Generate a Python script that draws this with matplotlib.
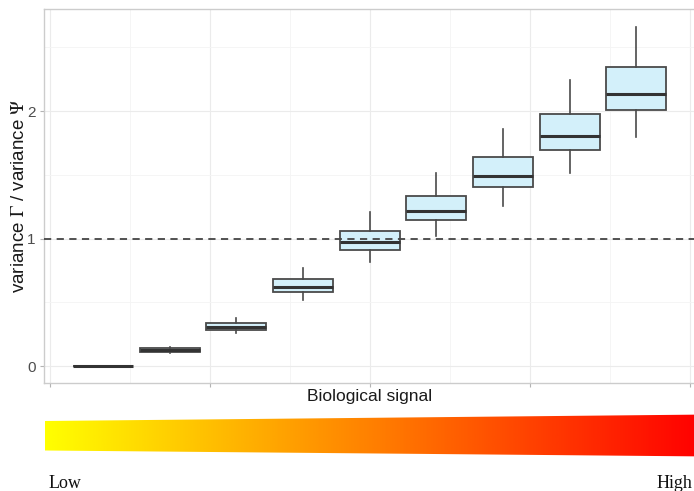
import numpy as np
import matplotlib
matplotlib.use("Agg")
import matplotlib.pyplot as plt
from matplotlib.patches import Polygon
from matplotlib.colors import LinearSegmentedColormap

plt.rcParams['font.family'] = ['Liberation Sans', 'DejaVu Sans']
plt.rcParams['mathtext.fontset'] = 'stix'

# ---- data ----
signal_levels = [1, 2, 3, 4, 5, 6, 7, 8, 9]
whisker_low = [0.0, 0.104, 0.259, 0.518, 0.813, 1.022, 1.255, 1.516, 1.798]
quart_1 = [0.0, 0.112, 0.282, 0.578, 0.910, 1.143, 1.401, 1.692, 2.008]
medians = [0.0, 0.125, 0.306, 0.622, 0.970, 1.216, 1.493, 1.801, 2.136]
quart_3 = [0.0, 0.143, 0.337, 0.680, 1.061, 1.333, 1.639, 1.974, 2.343]
whisker_high = [0.0, 0.151, 0.376, 0.766, 1.205, 1.516, 1.861, 2.243, 2.661]
y_ticks = [0, 1, 2]
reference_line = 1.0
x_label = "Biological signal"
y_label = r"variance $\Gamma$ / variance $\Psi$"
gradient_labels = ["Low", "High"]
gradient_colors = ["#ffff00", "#ff0000"]

W, H = 694, 491
fig = plt.figure(figsize=(W / 100, H / 100), dpi=100)

# main panel
left, right, top, bottom = 44, 695, 9, 383
ax = fig.add_axes([left / W, (H - bottom) / H, (right - left) / W, (bottom - top) / H])
px_per_unit = 66.67
x0 = 1 - (103 - left) / px_per_unit
ax.set_xlim(x0, x0 + (right - left) / px_per_unit)
ax.set_ylim(-0.133, 2.8)

major_x = [0.205, 2.605, 5.0, 7.4, 9.8]
minor_x = [1.405, 3.8, 6.2, 8.6]
ax.set_xticks(major_x)
ax.set_xticks(minor_x, minor=True)
ax.set_xticklabels([])
ax.set_yticks(y_ticks)
ax.set_yticks([0.5, 1.5, 2.5], minor=True)
ax.grid(True, which='major', color='#ebebeb', lw=0.8)
ax.grid(True, which='minor', color='#f4f4f4', lw=0.6)
ax.set_axisbelow(True)
ax.tick_params(which='major', length=3, width=0.8, color='#b3b3b3',
               labelsize=11, labelcolor='#4d4d4d', pad=3)
ax.tick_params(which='minor', length=0)
for s in ax.spines.values():
    s.set_color('#cccccc')
    s.set_linewidth(1.0)

stats = []
for i in range(len(signal_levels)):
    stats.append(dict(med=medians[i], q1=quart_1[i], q3=quart_3[i],
                      whislo=whisker_low[i], whishi=whisker_high[i], fliers=[]))
ax.bxp(stats, positions=signal_levels, widths=0.9, showcaps=False, patch_artist=True,
       boxprops=dict(facecolor='#d3f0fa', edgecolor='#4a4a4a', linewidth=1.3),
       medianprops=dict(color='#333333', linewidth=2.2, solid_capstyle='butt'),
       whiskerprops=dict(color='#4a4a4a', linewidth=1.2),
       manage_ticks=False, zorder=3)

ax.axhline(reference_line, color='#444444', lw=1.3, dashes=(4, 3), zorder=4)

ax.set_xlabel(x_label, fontsize=12.5, color='#1a1a1a')
ax.xaxis.set_label_coords(0.5, (bottom - 401) / (bottom - top))
ax.xaxis.label.set_va('baseline')
ax.set_ylabel(y_label, fontsize=13.5, color='#1a1a1a')
ax.yaxis.set_label_coords((20 - left) / (right - left), 0.5)
ax.yaxis.label.set_va('center')

# gradient wedge
gax = fig.add_axes([0, 0, 1, 1])
gax.set_xlim(0, W)
gax.set_ylim(H, 0)
gax.axis('off')
cmap = LinearSegmentedColormap.from_list('yr', gradient_colors)
grad = np.linspace(0, 1, 512).reshape(1, -1)
gx0, gx1 = 45, 700
im = gax.imshow(grad, cmap=cmap, extent=[gx0, gx1, 457, 414], aspect='auto')
poly = Polygon([(gx0, 421), (gx1, 414.6), (gx1, 456.4), (gx0, 450.5)],
               closed=True, transform=gax.transData, facecolor='none', edgecolor='none')
gax.add_patch(poly)
im.set_clip_path(poly)

fig.text(49 / W, 1 - 488 / H, gradient_labels[0], fontsize=13,
         family=['Liberation Serif', 'DejaVu Serif'], color='#111111', ha='left', va='baseline')
fig.text(657 / W, 1 - 488 / H, gradient_labels[1], fontsize=13,
         family=['Liberation Serif', 'DejaVu Serif'], color='#111111', ha='left', va='baseline')

fig.savefig("out.png", dpi=100)
